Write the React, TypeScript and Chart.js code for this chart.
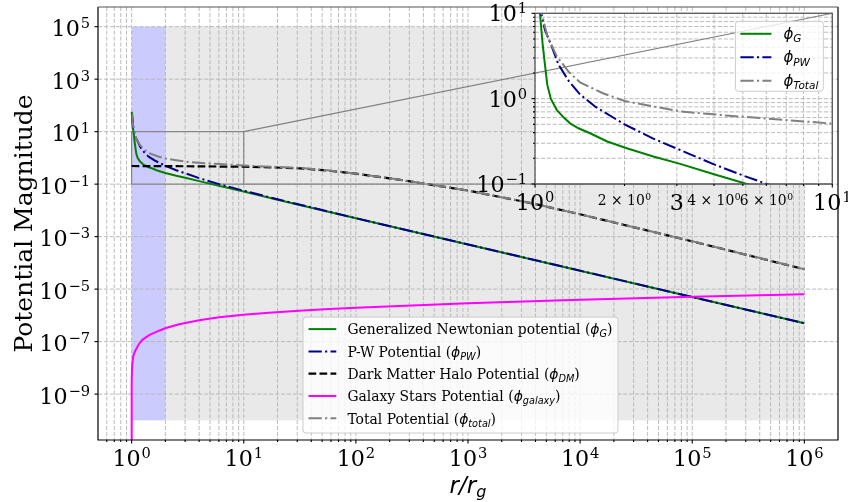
import React, { useEffect, useRef } from 'react';
import { Chart, registerables } from 'chart.js';

Chart.register(...registerables);

// ---------------- data ----------------
// Generalized Newtonian potential
const rG = [1.003, 1.01, 1.02, 1.039, 1.06, 1.08, 1.1, 1.13, 1.183, 1.25, 1.312, 1.4, 1.532, 1.75, 2.035, 2.5, 3.077, 4, 5.16, 7, 10, 20, 100, 1e6];
const phiG = [57, 30, 17, 10, 4.5, 2.5, 1.45, 1.0, 0.74, 0.6, 0.514, 0.45, 0.393, 0.315, 0.262, 0.21, 0.172, 0.13, 0.1, 0.074, 0.052, 0.0255, 0.005, 5e-7];

// Paczynski-Wiita potential
const rPW = [1.0116, 1.02, 1.03, 1.05, 1.08, 1.138, 1.2, 1.3, 1.418, 1.6, 2, 2.5, 3.24, 4, 5, 6.03, 8, 10, 20, 100, 1e6];
const phiPW = [43, 25, 16.5, 10, 6.4, 4.1, 2.5, 1.6, 1.12, 0.8, 0.5, 0.34, 0.232, 0.17, 0.126, 0.1, 0.072, 0.056, 0.0265, 0.00505, 5e-7];

// Dark matter halo potential
const rDM = [1, 3, 10, 17.8, 31.6, 56.2, 100, 242, 1000, 3715, 1e4, 1e5, 1e6];
const phiDM = [0.49, 0.48, 0.46, 0.435, 0.4, 0.33, 0.25, 0.148, 0.057, 0.0186, 0.0071, 6.6e-4, 5.7e-5];

// Galaxy stars potential
const rGal = [1, 1.0001, 1.002, 1.01, 1.03, 1.05, 1.09, 1.166, 1.248, 1.432, 1.758, 2.02, 2.65, 4, 6.03, 9.9, 16.8, 31, 57.6, 100, 1000, 1e4, 1e5, 1e6];
const phiGal = [1e-13, 1e-11, 3e-9, 1.2e-8, 2.5e-8, 3.5e-8, 4.9e-8, 8.3e-8, 1.17e-7, 1.75e-7, 2.6e-7, 3.3e-7, 4.6e-7, 6.5e-7, 8.4e-7, 1.06e-6, 1.26e-6, 1.51e-6, 1.74e-6, 1.95e-6, 2.9e-6, 3.9e-6, 5.1e-6, 6.3e-6];

// Total potential
const rTot = [1.0116, 1.02, 1.03, 1.05, 1.1, 1.183, 1.3, 1.418, 1.7, 2, 2.5, 3.077, 4.5, 6.03, 10, 17.8, 31.6, 56.2, 100, 242, 1000, 3715, 1e4, 1e5, 1e6];
const phiTot = [44, 26, 17.2, 10.5, 5.4, 3.15, 2.05, 1.55, 1.15, 0.94, 0.81, 0.71, 0.63, 0.585, 0.51, 0.46, 0.415, 0.335, 0.253, 0.149, 0.057, 0.0187, 0.0071, 6.65e-4, 5.75e-5];

const legendNames = ['Generalized Newtonian potential', 'P-W Potential', 'Dark Matter Halo Potential', 'Galaxy Stars Potential', 'Total Potential'];
const legendSubs = ['G', 'PW', 'DM', 'galaxy', 'total'];
const insetLegendSubs = ['G', 'PW', 'Total'];

const blueSpanX = [1, 2];
const graySpanX = [2, 1e6];
const spanY = [1e-10, 1e5];
const zoomBoxX = [1, 10];
const zoomBoxY = [0.1, 10];

const mainXRange = [Math.pow(10, -0.3), Math.pow(10, 6.3)];
const mainYRange = [Math.pow(10, -10.75), Math.pow(10, 5.75)];
const insetXRange = [1, 10];
const insetYRange = [0.1, 10];

const mainXMajor = [1, 10, 100, 1e3, 1e4, 1e5, 1e6];
const mainXLabels = ['10^0', '10^1', '10^2', '10^3', '10^4', '10^5', '10^6'];
const mainYMajor = [1e5, 1e3, 10, 0.1, 1e-3, 1e-5, 1e-7, 1e-9];
const mainYLabels = ['10^5', '10^3', '10^1', '10^-1', '10^-3', '10^-5', '10^-7', '10^-9'];
const mainXMinor: number[] = [];
for (let e = -1; e <= 6; e++) {
  for (let m = 2; m <= 9; m++) {
    const v = m * Math.pow(10, e);
    if (v > mainXRange[0] && v < mainXRange[1]) mainXMinor.push(v);
  }
}

const insetXTicks = [1, 2, 3, 4, 5, 6, 7, 8, 9, 10];
const insetXLabels = ['10^0', '2×10^0', '3', '4×10^0', '', '6×10^0', '', '', '', '10^1'];
const insetXSmall = [false, true, false, true, false, true, false, false, false, false];
const insetYTicks = [0.1, 0.2, 0.3, 0.4, 0.5, 0.6, 0.7, 0.8, 0.9, 1, 2, 3, 4, 5, 6, 7, 8, 9, 10];
const insetYMajor = [0.1, 1, 10];
const insetYLabels = ['10^-1', '10^0', '10^1'];

// ---------------- styles ----------------
const SERIF = '"DejaVu Serif", serif';
const SANS = '"DejaVu Sans", sans-serif';
const seriesColors = ['#008000', '#00008b', '#000000', '#ff00ff', '#808080'];
const DD = [13.3, 3.3, 2.1, 3.3];
const seriesDash = [[], DD, [7.7, 3.3], [], DD];
const seriesWidth = [2, 2, 2.2, 2, 2];

function pts(xs: number[], ys: number[]) {
  return xs.map((x, i) => ({ x, y: ys[i] }));
}

function ds(i: number, data: { x: number; y: number }[]) {
  return {
    label: `${legendNames[i]} (\u03d5${legendSubs[i]})`,
    data,
    borderColor: seriesColors[i],
    backgroundColor: seriesColors[i],
    borderDash: seriesDash[i],
    borderWidth: seriesWidth[i],
    pointRadius: 0,
    tension: 0,
    fill: false,
    order: 10 - i,
  };
}

function mathLabel(ctx: CanvasRenderingContext2D, label: string, x: number, baseline: number, align: 'center' | 'right', size: number) {
  if (!label) return;
  const parts = label.split('^');
  const pre = parts[0].replace('×', ' × ');
  const sup = parts.length > 1 ? parts[1].replace('-', '\u2212') : '';
  const supSize = size * 0.66;
  const gap = sup ? size * 0.04 : 0;
  ctx.font = `${size}px ${SERIF}`;
  const wPre = ctx.measureText(pre).width;
  ctx.font = `${supSize}px ${SERIF}`;
  const wSup = sup ? ctx.measureText(sup).width : 0;
  const total = wPre + gap + wSup;
  const left = align === 'center' ? x - total / 2 : x - total;
  ctx.fillStyle = '#000';
  ctx.textAlign = 'left';
  ctx.textBaseline = 'alphabetic';
  ctx.font = `${size}px ${SERIF}`;
  ctx.fillText(pre, left, baseline);
  if (sup) {
    ctx.font = `${supSize}px ${SERIF}`;
    ctx.fillText(sup, left + wPre + gap, baseline - size * 0.36);
  }
}

function legendText(ctx: CanvasRenderingContext2D, name: string | null, sub: string, x: number, baseline: number, size: number, draw: boolean) {
  let cx = x;
  const seg = (txt: string, font: string, dy: number) => {
    ctx.font = font;
    if (draw) ctx.fillText(txt, cx, baseline + dy);
    cx += ctx.measureText(txt).width;
  };
  ctx.textAlign = 'left';
  ctx.textBaseline = 'alphabetic';
  ctx.fillStyle = '#000';
  if (name) seg(name + ' (', `${size}px ${SERIF}`, 0);
  seg('\u03d5', `italic ${size}px ${SANS}`, 0);
  seg(sub, `italic ${size * 0.7}px ${SANS}`, size * 0.22);
  if (name) seg(')', `${size}px ${SERIF}`, 0);
  return cx - x;
}

function legendBox(ctx: CanvasRenderingContext2D, x: number, y: number, w: number, h: number) {
  const r = 3;
  ctx.beginPath();
  ctx.moveTo(x + r, y);
  ctx.lineTo(x + w - r, y);
  ctx.arcTo(x + w, y, x + w, y + r, r);
  ctx.lineTo(x + w, y + h - r);
  ctx.arcTo(x + w, y + h, x + w - r, y + h, r);
  ctx.lineTo(x + r, y + h);
  ctx.arcTo(x, y + h, x, y + h - r, r);
  ctx.lineTo(x, y + r);
  ctx.arcTo(x, y, x + r, y, r);
  ctx.closePath();
  ctx.fillStyle = 'rgba(255,255,255,0.8)';
  ctx.fill();
  ctx.strokeStyle = '#cccccc';
  ctx.lineWidth = 1;
  ctx.setLineDash([]);
  ctx.stroke();
}

function seg(ctx: CanvasRenderingContext2D, x0: number, y0: number, x1: number, y1: number) {
  ctx.beginPath();
  ctx.moveTo(x0, y0);
  ctx.lineTo(x1, y1);
  ctx.stroke();
}

function handle(ctx: CanvasRenderingContext2D, x0: number, x1: number, y: number, i: number) {
  ctx.save();
  ctx.strokeStyle = seriesColors[i];
  ctx.lineWidth = seriesWidth[i];
  ctx.setLineDash(seriesDash[i]);
  seg(ctx, x0, y, x1, y);
  ctx.restore();
}

const GRID = '#b4b4b4';
const GRID_DASH = [4.1, 1.8];

const mainDecor = {
  id: 'mainDecor',
  beforeDatasetsDraw(chart: any) {
    const { ctx, chartArea: a } = chart;
    const xs = chart.scales.x;
    const ys = chart.scales.y;
    ctx.save();
    const yT = ys.getPixelForValue(spanY[1]);
    const yB = ys.getPixelForValue(spanY[0]);
    const g0 = xs.getPixelForValue(graySpanX[0]);
    const g1 = xs.getPixelForValue(graySpanX[1]);
    ctx.fillStyle = '#e9e9e9';
    ctx.fillRect(g0, yT, g1 - g0, yB - yT);
    const b0 = xs.getPixelForValue(blueSpanX[0]);
    const b1 = xs.getPixelForValue(blueSpanX[1]);
    ctx.fillStyle = '#cbcbfd';
    ctx.fillRect(b0, yT, b1 - b0, yB - yT);

    ctx.strokeStyle = GRID;
    ctx.lineWidth = 0.9;
    ctx.setLineDash(GRID_DASH);
    [...mainXMinor, ...mainXMajor].forEach((v) => {
      const px = xs.getPixelForValue(v);
      seg(ctx, px, a.top, px, a.bottom);
    });
    mainYMajor.forEach((v) => {
      const py = ys.getPixelForValue(v);
      seg(ctx, a.left, py, a.right, py);
    });
    ctx.setLineDash([]);

    // zoom indicator rectangle
    const rx0 = xs.getPixelForValue(zoomBoxX[0]);
    const rx1 = xs.getPixelForValue(zoomBoxX[1]);
    const ry0 = ys.getPixelForValue(zoomBoxY[1]);
    const ry1 = ys.getPixelForValue(zoomBoxY[0]);
    ctx.strokeStyle = '#808080';
    ctx.lineWidth = 1.1;
    ctx.strokeRect(rx0, ry0, rx1 - rx0, ry1 - ry0);
    ctx.restore();
  },
  afterDatasetsDraw(chart: any) {
    const { ctx, chartArea: a } = chart;
    const xs = chart.scales.x;
    const ys = chart.scales.y;
    ctx.save();
    ctx.setLineDash([]);
    // spines
    ctx.strokeStyle = '#000';
    ctx.lineWidth = 1.2;
    ctx.beginPath();
    ctx.moveTo(a.left, a.top);
    ctx.lineTo(a.left, a.bottom);
    ctx.lineTo(a.right, a.bottom);
    ctx.lineTo(a.right, a.top);
    ctx.stroke();
    ctx.strokeStyle = '#555';
    seg(ctx, a.left, a.top, a.right, a.top);
    // tick marks
    ctx.strokeStyle = '#000';
    ctx.lineWidth = 1.1;
    mainXMajor.forEach((v) => {
      const px = xs.getPixelForValue(v);
      seg(ctx, px, a.bottom, px, a.bottom + 3.5);
    });
    mainXMinor.forEach((v) => {
      const px = xs.getPixelForValue(v);
      seg(ctx, px, a.bottom, px, a.bottom + 2);
    });
    mainYMajor.forEach((v) => {
      const py = ys.getPixelForValue(v);
      seg(ctx, a.left - 3.5, py, a.left, py);
    });
    // tick labels
    mainXMajor.forEach((v, i) => mathLabel(ctx, mainXLabels[i], xs.getPixelForValue(v), a.bottom + 26, 'center', 22.2));
    mainYMajor.forEach((v, i) => mathLabel(ctx, mainYLabels[i], a.left - 8, ys.getPixelForValue(v) + 9.5, 'right', 22.2));

    // axis titles
    ctx.fillStyle = '#000';
    ctx.save();
    ctx.translate(31.5, (a.top + a.bottom) / 2);
    ctx.rotate(-Math.PI / 2);
    ctx.font = `25px ${SERIF}`;
    ctx.textAlign = 'center';
    ctx.textBaseline = 'alphabetic';
    ctx.fillText('Potential Magnitude', 0, 0);
    ctx.restore();

    ctx.textAlign = 'left';
    ctx.font = `italic 23px ${SANS}`;
    const w1 = ctx.measureText('r/r').width;
    ctx.font = `italic 16px ${SANS}`;
    const w2 = ctx.measureText('g').width;
    const sx = (a.left + a.right) / 2 - (w1 + w2) / 2;
    ctx.font = `italic 23px ${SANS}`;
    ctx.fillText('r/r', sx, a.bottom + 53);
    ctx.font = `italic 16px ${SANS}`;
    ctx.fillText('g', sx + w1, a.bottom + 57);

    // legend
    const size = 13.9;
    const row = 22.3;
    const hl = 27.8;
    const tp = 11.1;
    const pad = 5.5;
    const widths = legendNames.map((n, i) => legendText(ctx, n, legendSubs[i], 0, 0, size, false));
    const boxW = pad + hl + tp + Math.max(...widths) + pad;
    const boxH = 12 + row * (legendNames.length - 1) + 14.7;
    const left = a.left + 205;
    const top = a.bottom - 7 - boxH;
    legendBox(ctx, left, top, boxW, boxH);
    legendNames.forEach((n, i) => {
      const ly = top + 12 + i * row;
      handle(ctx, left + pad, left + pad + hl, ly, i);
      legendText(ctx, n, legendSubs[i], left + pad + hl + tp, ly + size * 0.38, size, true);
    });
    ctx.restore();
  },
};

function makeInsetDecor(getMain: () => any) {
  return {
    id: 'insetDecor',
    beforeDatasetsDraw(chart: any) {
      const { ctx, chartArea: a } = chart;
      const xs = chart.scales.x;
      const ys = chart.scales.y;
      ctx.save();
      ctx.fillStyle = '#ffffff';
      ctx.fillRect(a.left, a.top, a.right - a.left, a.bottom - a.top);
      ctx.strokeStyle = GRID;
      ctx.lineWidth = 0.9;
      ctx.setLineDash(GRID_DASH);
      insetXTicks.forEach((v) => {
        const px = xs.getPixelForValue(v);
        seg(ctx, px, a.top, px, a.bottom);
      });
      insetYTicks.forEach((v) => {
        const py = ys.getPixelForValue(v);
        seg(ctx, a.left, py, a.right, py);
      });
      ctx.setLineDash([]);
      // connectors from the zoom rectangle in the main axes
      const m = getMain();
      if (m) {
        const mx = m.scales.x;
        const my = m.scales.y;
        const cx = mx.getPixelForValue(zoomBoxX[1]);
        const cyT = my.getPixelForValue(zoomBoxY[1]);
        const cyB = my.getPixelForValue(zoomBoxY[0]);
        ctx.strokeStyle = '#808080';
        ctx.lineWidth = 1.1;
        seg(ctx, cx, cyT, a.right, a.top);
        seg(ctx, cx, cyB, a.right, a.bottom);
      }
      ctx.restore();
    },
    afterDatasetsDraw(chart: any) {
      const { ctx, chartArea: a } = chart;
      const xs = chart.scales.x;
      const ys = chart.scales.y;
      ctx.save();
      ctx.setLineDash([]);
      ctx.strokeStyle = '#5a5a5a';
      ctx.lineWidth = 1.3;
      ctx.strokeRect(a.left, a.top, a.right - a.left, a.bottom - a.top);
      ctx.strokeStyle = '#000';
      ctx.lineWidth = 1.1;
      insetXTicks.forEach((v, i) => {
        const px = xs.getPixelForValue(v);
        const major = i === 0 || i === insetXTicks.length - 1;
        seg(ctx, px, a.bottom, px, a.bottom + (major ? 3.5 : 2));
      });
      insetYTicks.forEach((v) => {
        const py = ys.getPixelForValue(v);
        const major = insetYMajor.indexOf(v) >= 0;
        seg(ctx, a.left - (major ? 3.5 : 2), py, a.left, py);
      });
      insetXTicks.forEach((v, i) => {
        const small = insetXSmall[i];
        mathLabel(ctx, insetXLabels[i], xs.getPixelForValue(v), a.bottom + (small ? 21 : 26), 'center', small ? 13.9 : 22.2);
      });
      insetYMajor.forEach((v, i) => mathLabel(ctx, insetYLabels[i], a.left - 8, ys.getPixelForValue(v) + 8, 'right', 22.2));

      // inset legend
      const size = 15;
      const row = 23.5;
      const hl = 31;
      const tp = 12;
      const pad = 5;
      const idx = [0, 1, 4];
      const widths = insetLegendSubs.map((s) => legendText(ctx, null, s, 0, 0, size, false));
      const boxW = pad + hl + tp + Math.max(...widths) + pad;
      const boxH = 12.5 + row * (idx.length - 1) + 10.5;
      const right = a.right - 9;
      const left = right - boxW;
      const top = a.top + 8;
      legendBox(ctx, left, top, boxW, boxH);
      idx.forEach((si, k) => {
        const ly = top + 12.5 + k * row;
        handle(ctx, left + pad, left + pad + hl, ly, si);
        legendText(ctx, null, insetLegendSubs[k], left + pad + hl + tp, ly + size * 0.33, size, true);
      });
      ctx.restore();
    },
  };
}

export default function App() {
  const mainRef = useRef<HTMLCanvasElement>(null);
  const insetRef = useRef<HTMLCanvasElement>(null);

  useEffect(() => {
    if (!mainRef.current || !insetRef.current) return;
    const main: any = new Chart(mainRef.current, {
      type: 'line',
      data: {
        datasets: [
          ds(0, pts(rG, phiG)),
          ds(1, pts(rPW, phiPW)),
          ds(2, pts(rDM, phiDM)),
          ds(3, pts(rGal, phiGal)),
          ds(4, pts(rTot, phiTot)),
        ] as any,
      },
      options: {
        responsive: false,
        animation: false,
        devicePixelRatio: 1,
        events: [],
        layout: { padding: { left: 98, top: 7, right: 10, bottom: 62 } },
        scales: {
          x: { type: 'logarithmic', min: mainXRange[0], max: mainXRange[1], display: false },
          y: { type: 'logarithmic', min: mainYRange[0], max: mainYRange[1], display: false },
        },
        plugins: { legend: { display: false }, tooltip: { enabled: false } },
      } as any,
      plugins: [mainDecor],
    });

    const inset: any = new Chart(insetRef.current, {
      type: 'line',
      data: {
        datasets: [ds(0, pts(rG, phiG)), ds(1, pts(rPW, phiPW)), ds(4, pts(rTot, phiTot))] as any,
      },
      options: {
        responsive: false,
        animation: false,
        devicePixelRatio: 1,
        events: [],
        layout: { padding: { left: 535, top: 13.3, right: 15.7, bottom: 318 } },
        scales: {
          x: { type: 'logarithmic', min: insetXRange[0], max: insetXRange[1], display: false },
          y: { type: 'logarithmic', min: insetYRange[0], max: insetYRange[1], display: false },
        },
        plugins: { legend: { display: false }, tooltip: { enabled: false } },
      } as any,
      plugins: [makeInsetDecor(() => main)],
    });

    return () => {
      inset.destroy();
      main.destroy();
    };
  }, []);

  return (
    <div style={{ position: 'fixed', left: 0, top: 0, width: 848, height: 502, background: '#ffffff' }}>
      <canvas ref={mainRef} width={848} height={502} style={{ position: 'absolute', left: 0, top: 0, width: 848, height: 502 }} />
      <canvas ref={insetRef} width={848} height={502} style={{ position: 'absolute', left: 0, top: 0, width: 848, height: 502 }} />
    </div>
  );
}
